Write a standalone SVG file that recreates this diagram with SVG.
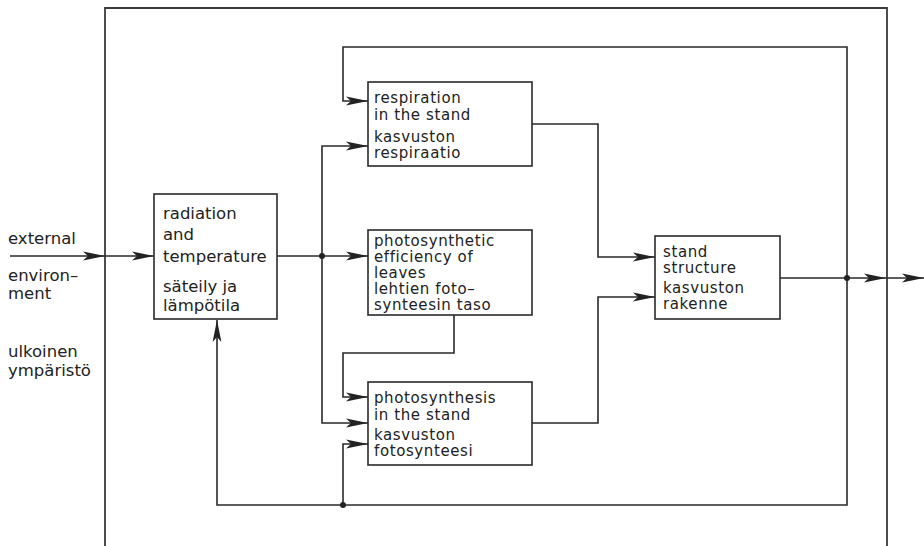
<svg xmlns="http://www.w3.org/2000/svg" width="924" height="546" viewBox="0 0 924 546">
<style>
.box{fill:#fff;stroke:#2a2a2a;stroke-width:1.6}
.ln{fill:none;stroke:#2a2a2a;stroke-width:1.6}
.fr{fill:none;stroke:#3a3a3a;stroke-width:1.8}
text{font-family:"DejaVu Sans","Liberation Sans",sans-serif;font-size:16.5px;fill:#222}
.t{font-size:15px;letter-spacing:0.6px}
.dot{fill:#222}
</style>
<defs>
<marker id="ah" markerUnits="userSpaceOnUse" markerWidth="24" markerHeight="10" refX="22" refY="5" orient="auto">
<path d="M0,0.6 L22,5 L0,9.4 L5,5 Z" fill="#222"/>
</marker>
</defs>
<rect width="924" height="546" fill="#fff"/>
<path class="fr" d="M105,546 V8 H887 V546"/>
<g id="left-labels">
<text x="8" y="244">external</text>
<text x="8" y="281">environ–</text>
<text x="8" y="299">ment</text>
<text x="8" y="357">ulkoinen</text>
<text x="8" y="376">ympäristö</text>
</g>
<g id="connectors">
<path class="ln" d="M10,256 H105" marker-end="url(#ah)"/>
<path class="ln" d="M105,256 H154" marker-end="url(#ah)"/>
<path class="ln" d="M277,256 H368" marker-end="url(#ah)"/>
<path class="ln" d="M322,256 V146 H368" marker-end="url(#ah)"/>
<path class="ln" d="M322,256 V423 H368" marker-end="url(#ah)"/>
<path class="ln" d="M847,278 V47 H343 V101 H368" marker-end="url(#ah)"/>
<path class="ln" d="M454,315 V353 H343 V397 H368" marker-end="url(#ah)"/>
<path class="ln" d="M847,278 V505 H217 V320" marker-end="url(#ah)"/>
<path class="ln" d="M343,505 V444 H368" marker-end="url(#ah)"/>
<path class="ln" d="M532,124 H598 V257 H655" marker-end="url(#ah)"/>
<path class="ln" d="M532,423 H598 V297 H655" marker-end="url(#ah)"/>
<path class="ln" d="M780,278 H886" marker-end="url(#ah)"/>
<path class="ln" d="M886,278 H924" marker-end="url(#ah)"/>
<circle class="dot" cx="322" cy="256" r="3"/>
<circle class="dot" cx="847" cy="278" r="3"/>
<circle class="dot" cx="343" cy="505" r="3"/>
</g>
<g id="radiation">
<rect class="box" x="154" y="194" width="123" height="125"/>
<text x="163" y="219">radiation</text>
<text x="163" y="240">and</text>
<text x="163" y="262">temperature</text>
<text x="163" y="292">säteily ja</text>
<text x="163" y="311">lämpötila</text>
</g>
<g id="respiration">
<rect class="box" x="368" y="82" width="164" height="84"/>
<text class="t" x="374" y="103">respiration</text>
<text class="t" x="374" y="120">in the stand</text>
<text class="t" x="374" y="142">kasvuston</text>
<text class="t" x="374" y="158">respiraatio</text>
</g>
<g id="efficiency">
<rect class="box" x="368" y="230" width="164" height="85"/>
<text class="t" x="374" y="246">photosynthetic</text>
<text class="t" x="374" y="262">efficiency of</text>
<text class="t" x="374" y="278">leaves</text>
<text class="t" x="374" y="294">lehtien foto–</text>
<text class="t" x="374" y="310">synteesin taso</text>
</g>
<g id="photosynthesis">
<rect class="box" x="368" y="382" width="164" height="83"/>
<text class="t" x="374" y="403">photosynthesis</text>
<text class="t" x="374" y="420">in the stand</text>
<text class="t" x="374" y="440">kasvuston</text>
<text class="t" x="374" y="456">fotosynteesi</text>
</g>
<g id="structure">
<rect class="box" x="655" y="236" width="125" height="83"/>
<text class="t" x="663" y="257">stand</text>
<text class="t" x="663" y="273">structure</text>
<text class="t" x="663" y="293">kasvuston</text>
<text class="t" x="663" y="309">rakenne</text>
</g>
</svg>
